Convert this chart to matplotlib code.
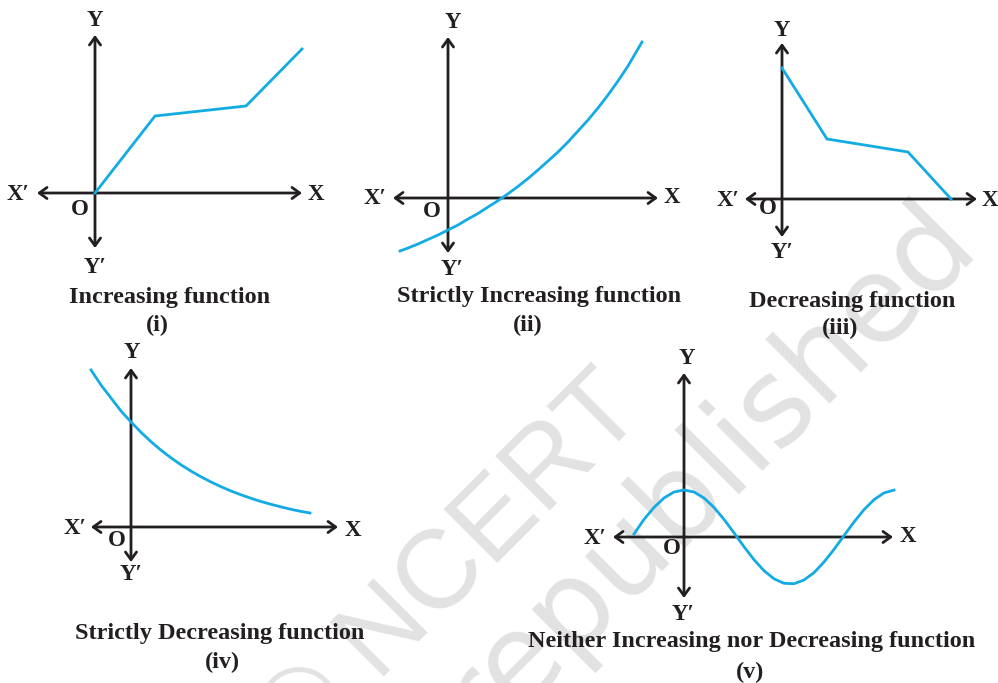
import matplotlib
matplotlib.use("Agg")
import matplotlib.pyplot as plt

W, H = 998, 683
BLUE = "#12abe4"
INK = "#231f20"
SERIF = ["Liberation Serif", "DejaVu Serif"]

# curves, in pixel units measured from each panel's origin, y upwards
inc_x = [0, 60, 151, 207]
inc_y = [0, 77, 87, 144]

sinc_x = [-48, -40, -30, -20, -10, 0, 10, 20, 30, 40, 50, 60, 70, 80, 90,
          100, 110, 120, 130, 140, 150, 160, 170, 180, 194]
sinc_y = [-53, -50, -46, -41.5, -37, -32, -27, -21, -15.5, -9, -2.7, 4.2,
          11.6, 19.5, 28, 37, 46, 56, 67, 78, 90, 103, 117, 132, 156]

dec_x = [0, 45, 126, 169]
dec_y = [131, 60, 47, 0]

sdec_x = [-40, -30, -20, -10, 0, 10, 20, 30, 40, 50, 60, 70, 80, 90, 100,
          110, 120, 130, 140, 150, 160, 170, 179]
sdec_y = [157, 142, 129, 116, 105, 94.7, 85.3, 76.8, 69.2, 62.2, 55.9, 50.2,
          45, 40.3, 36, 32.2, 28.7, 25.5, 22.7, 20.1, 17.7, 15.6, 14]

wave_x = [-50, -40, -30, -20, -10, 0, 10, 20, 30, 40, 50, 60, 70, 80, 90,
          100, 110, 120, 130, 140, 150, 160, 170, 180, 190, 200, 210]
wave_y = [3, 17.6, 29.6, 39, 45, 47, 45, 39, 29.6, 17.6, 4.2, -9.7, -22.7,
          -33.7, -41.8, -46.3, -46.7, -43, -35.7, -25, -12.4, 1.4, 15, 27.3,
          37.3, 44.1, 46.9]

titles = ["Increasing function", "Strictly Increasing function",
          "Decreasing function", "Strictly Decreasing function",
          "Neither Increasing nor Decreasing function"]
numerals = ["(i)", "(ii)", "(iii)", "(iv)", "(v)"]
curves = [(inc_x, inc_y), (sinc_x, sinc_y), (dec_x, dec_y),
          (sdec_x, sdec_y), (wave_x, wave_y)]

# layout: origin (px), arm lengths left/right/down/up,
# label offsets Y, Y', X, X', O and title/numeral offsets
layout = [
    dict(o=(95, 193), arms=(58, 207, 55, 158),
         Y=(0, 173), Yp=(0, -75), X=(221, -2), Xp=(-77, -2), O=(-15, -17),
         t=(75, -105), n=(62, -132)),
    dict(o=(448, 198), arms=(55, 210, 55, 161),
         Y=(5, 176), Yp=(4, -72), X=(224, 0), Xp=(-73, -1), O=(-16, -14),
         t=(91, -99), n=(80, -127)),
    dict(o=(782, 199), arms=(37, 195, 38, 156),
         Y=(0, 169), Yp=(0, -53), X=(208, -1), Xp=(-54, -1), O=(-14, -10),
         t=(70, -103), n=(58, -129)),
    dict(o=(131, 527), arms=(40, 207, 35, 159),
         Y=(1, 174), Yp=(0, -48), X=(222, -3), Xp=(-56, -1), O=(-14, -13),
         t=(89, -106), n=(91, -135)),
    dict(o=(684, 537), arms=(71, 209, 61, 164),
         Y=(3, 179), Yp=(-1, -78), X=(224, 0), Xp=(-89, -1), O=(-12, -11),
         t=(68, -105), n=(66, -135)),
]

fig = plt.figure(figsize=(W / 100, H / 100), dpi=100)

# faint watermark behind everything
bg = fig.add_axes([0, 0, 1, 1])
bg.set_xlim(0, W)
bg.set_ylim(H, 0)
bg.axis("off")
wm = dict(rotation=45, rotation_mode="anchor", ha="right", va="baseline",
          color="#e2e2e2")
bg.text(647, 413, "\u00a9 NCERT", fontsize=80, family="Liberation Sans", **wm)
bg.text(982, 252, "not to be republished", fontsize=86, family="DejaVu Sans",
        **wm)


def arrow(ax, a, b):
    ax.annotate("", xy=b, xytext=a,
                arrowprops=dict(arrowstyle="<->,head_length=0.55,head_width=0.4",
                                lw=2.0, color=INK, shrinkA=0, shrinkB=0))


def label(ax, pos, s, size=16.5):
    ax.text(pos[0], pos[1], s, ha="center", va="center", fontsize=size,
            fontweight="bold", family=SERIF, color=INK)


for (cx, cy), title, num, lay in zip(curves, titles, numerals, layout):
    ox, oy = lay["o"]
    ax = fig.add_axes([0, 0, 1, 1])
    ax.set_xlim(-ox, W - ox)
    ax.set_ylim(-(H - oy), oy)
    ax.axis("off")
    ax.patch.set_alpha(0)

    left, right, down, up = lay["arms"]
    arrow(ax, (-left, 0), (right, 0))
    arrow(ax, (0, -down), (0, up))

    ax.plot(cx, cy, color=BLUE, lw=2.0, solid_joinstyle="miter", zorder=3)

    label(ax, lay["Y"], "Y")
    label(ax, lay["Yp"], "Y\u2032")
    label(ax, lay["X"], "X")
    label(ax, lay["Xp"], "X\u2032")
    label(ax, lay["O"], "O")
    label(ax, lay["t"], title, 17.5)
    label(ax, lay["n"], num, 17.5)

fig.savefig("out.png", dpi=100)
